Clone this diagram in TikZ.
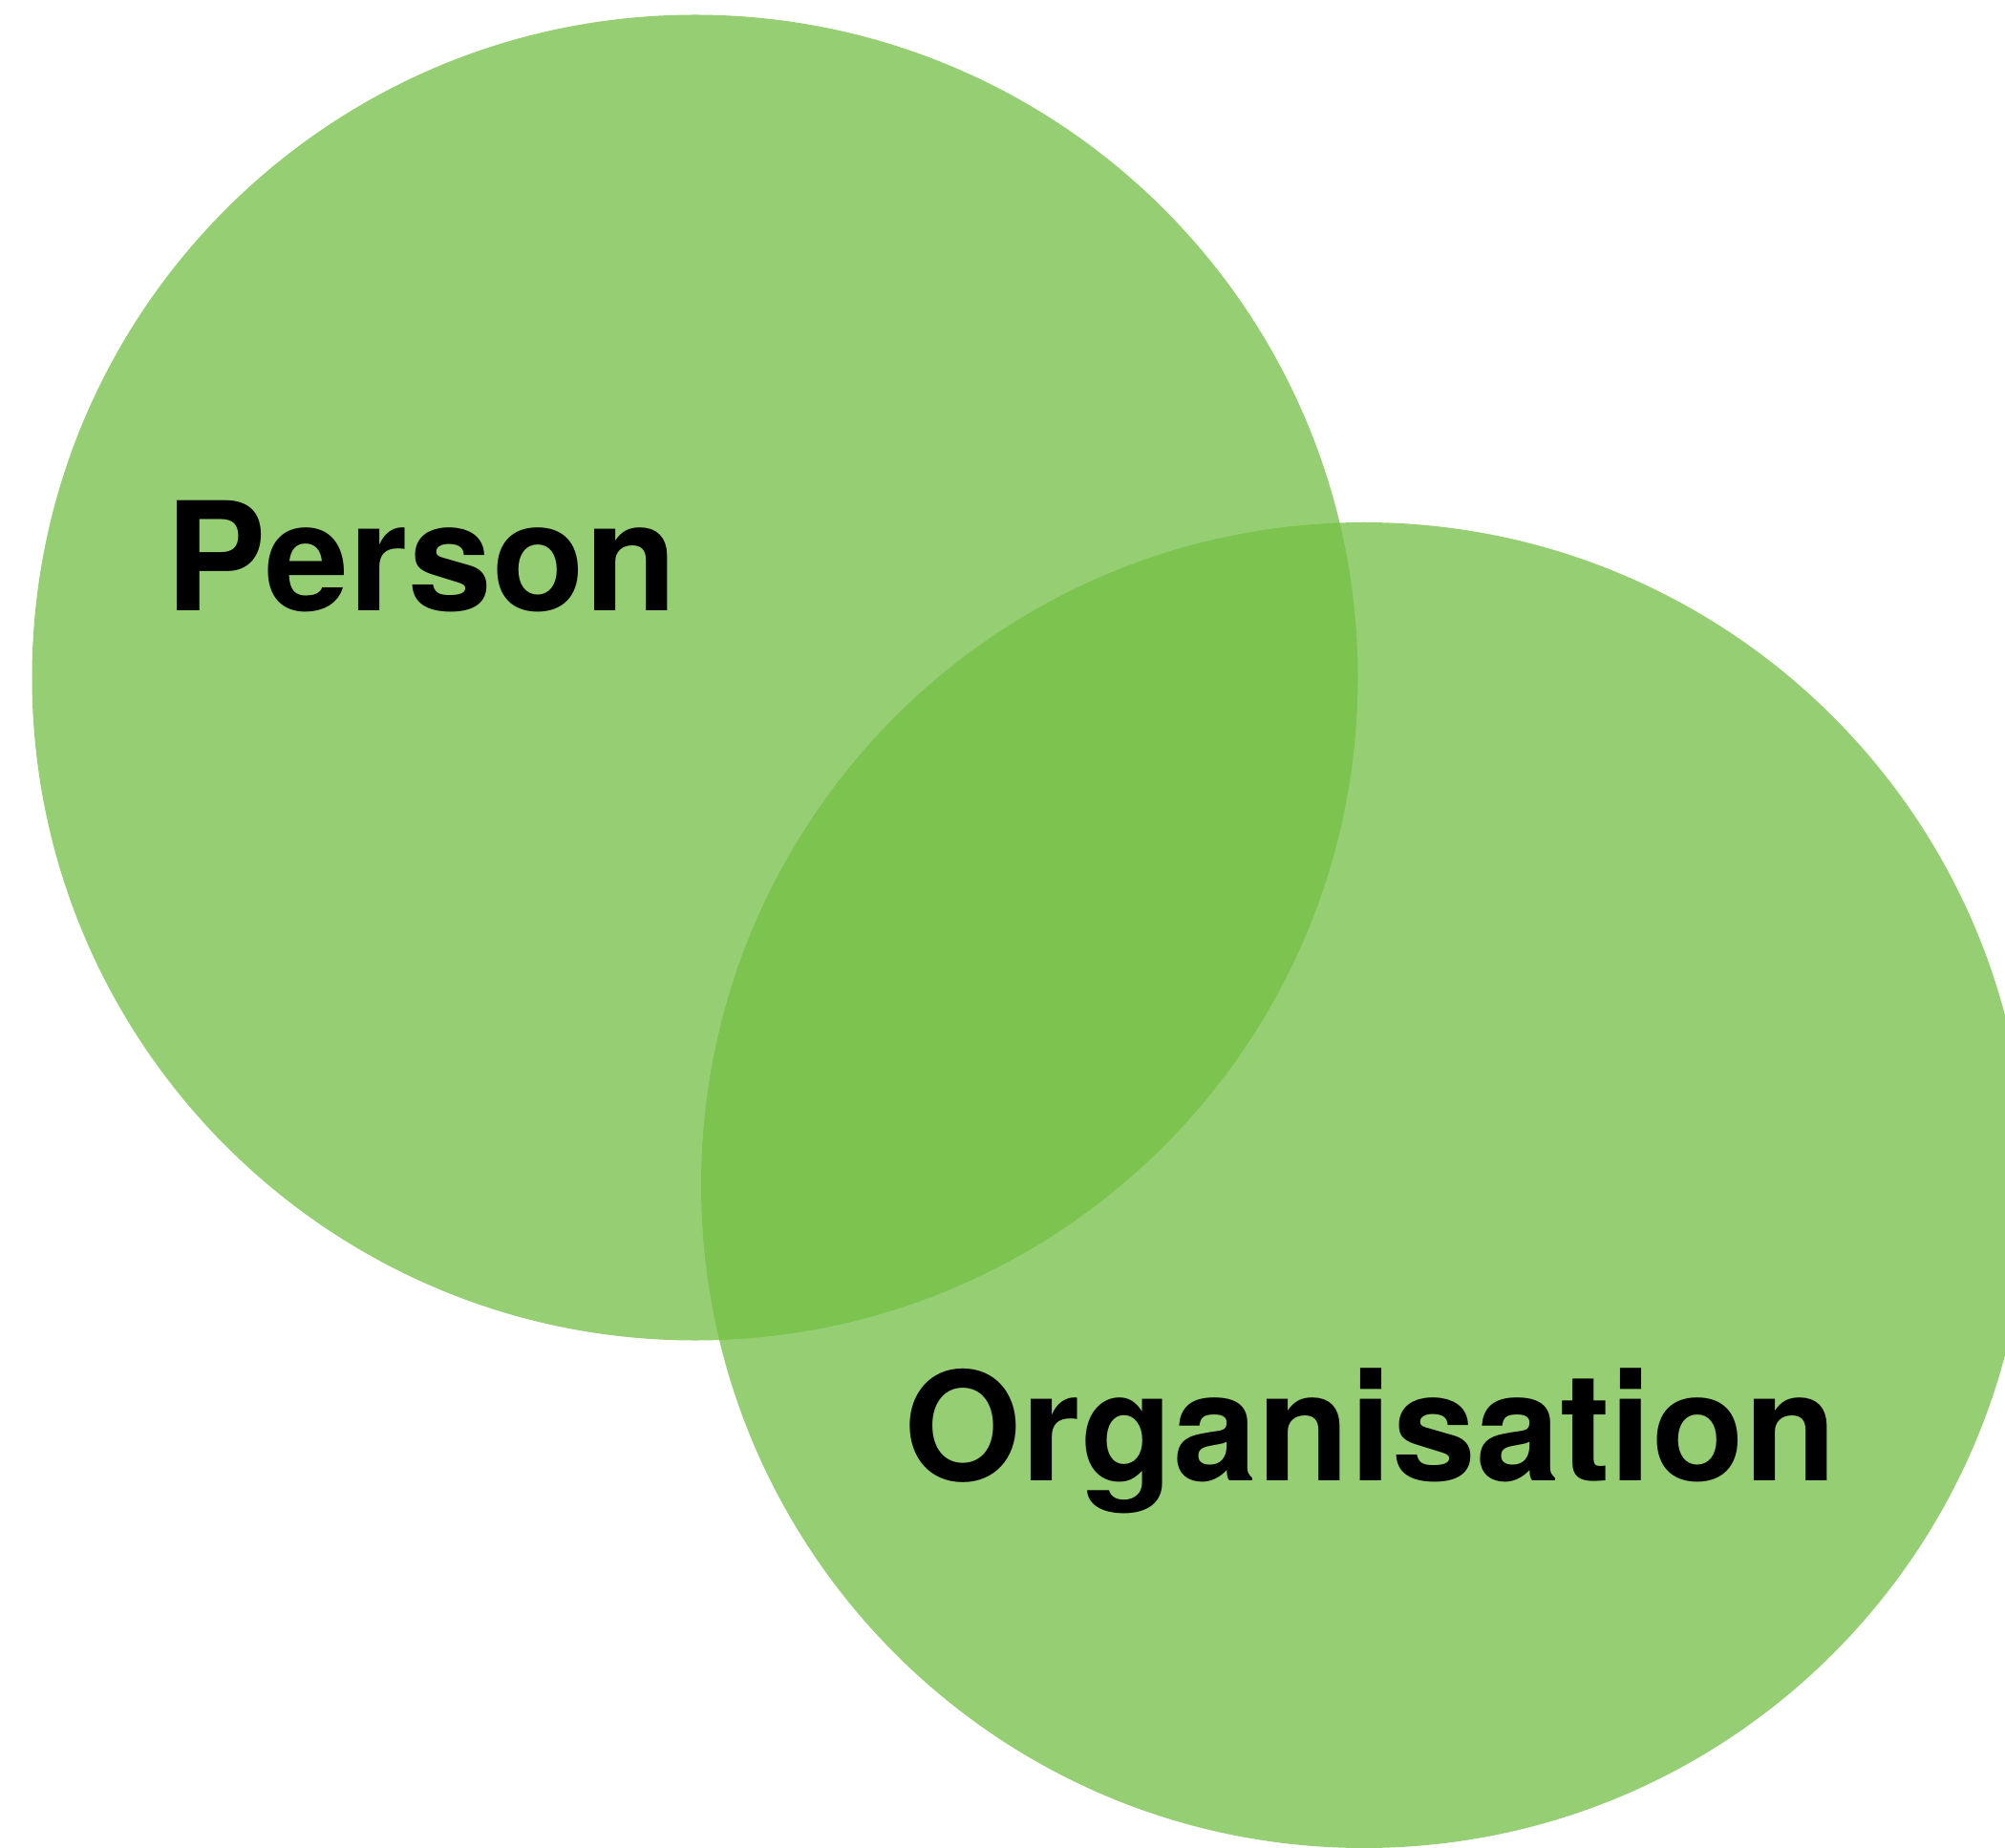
\documentclass[tikz,border=0pt]{standalone}
\usepackage{fontspec}
\setmainfont{TeX Gyre Heros}
\definecolor{setgreen}{RGB}{115,191,68}

\begin{document}
\begin{tikzpicture}[
  setcircle/.style={circle, inner sep=0pt, minimum size=13.88cm, fill=setgreen, fill opacity=0.75, draw=none},
  setlabel/.style={anchor=base west, inner sep=0pt, font=\bfseries\fontsize{45}{54}\selectfont}
  ]
  \useasboundingbox (0,0) rectangle (20.99,-19.35);
  % Draw the two sets
  \node[setcircle] (personset) at (7.275,-7.095) {};
  \node[setcircle] (orgset) at (14.28,-12.41) {};
  % Draw labels
  \node[setlabel] (personlabel) at (1.73,-6.40) {Person};
  \node[setlabel] (orglabel) at (9.46,-15.50) {Organisation};
\end{tikzpicture}
\end{document}
